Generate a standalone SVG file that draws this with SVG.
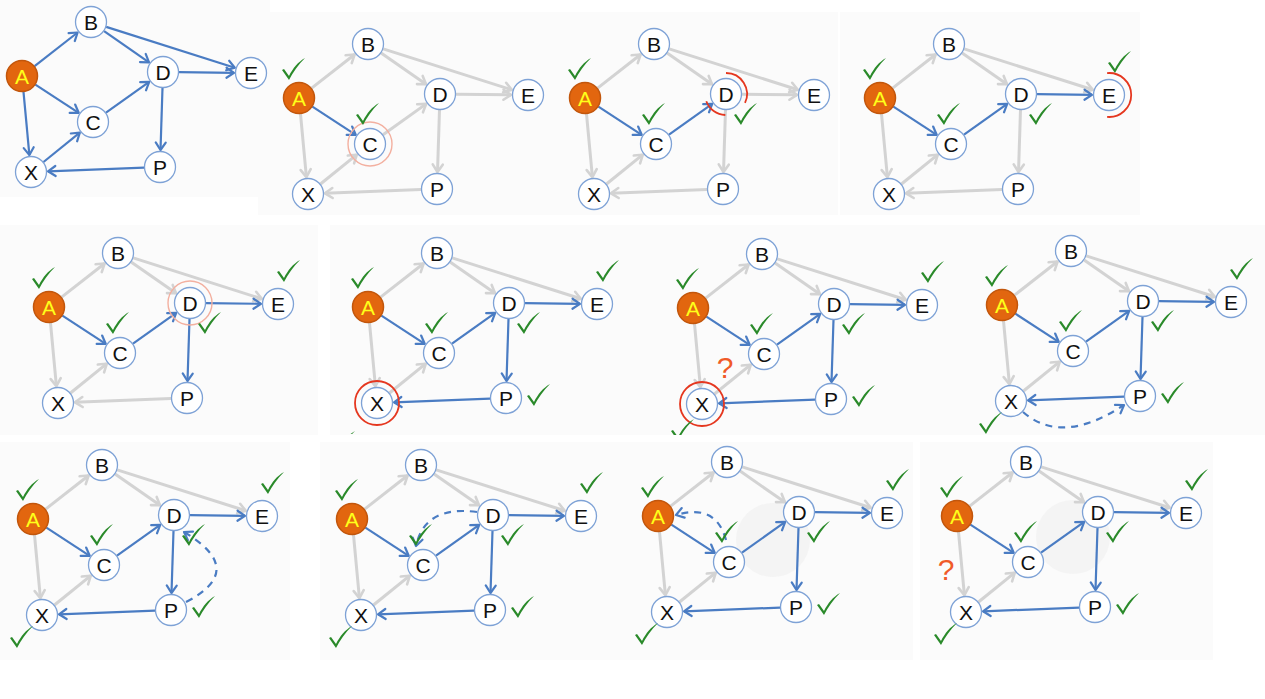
<svg xmlns="http://www.w3.org/2000/svg" xmlns:xlink="http://www.w3.org/1999/xlink" width="1265" height="699" viewBox="0 0 1265 699">
<style>
.bg{fill:#fbfbfb}
.node circle{fill:#ffffff;stroke:#7ea2d6;stroke-width:1.3}
.node text{font-family:"Liberation Sans",Arial,sans-serif;font-size:21px;fill:#111;text-anchor:middle}
.node.a circle{fill:#e2660f;stroke:#c2560c;stroke-width:1.5}
.node.a text{fill:#ffff1a}
.g{stroke:#d3d3d3;stroke-width:3;fill:none;marker-end:url(#mg)}
.b{stroke:#4a7cc3;stroke-width:2.2;fill:none;marker-end:url(#mb)}
.dash{stroke:#4a7cc3;stroke-width:2.2;fill:none;stroke-dasharray:7 6;marker-end:url(#mb)}
.ck{fill:#2a8a2a}
.ring{fill:none;stroke:#e5371f;stroke-width:1.8}
.pale{fill:none;stroke:#f3b0a0;stroke-width:1.4}
.q{font-family:"Liberation Sans",Arial,sans-serif;font-size:30px;fill:#f05a28;text-anchor:middle}
.wm{fill:#eeeeee;opacity:0.5}
</style>
<defs>
<marker id="mg" markerUnits="userSpaceOnUse" markerWidth="14" markerHeight="14" refX="10" refY="7" orient="auto"><path d="M2.5,2 L10,7 L2.5,12" fill="none" stroke="#d3d3d3" stroke-width="2.6" stroke-linecap="round" stroke-linejoin="round"/></marker>
<marker id="mb" markerUnits="userSpaceOnUse" markerWidth="14" markerHeight="14" refX="10" refY="7" orient="auto"><path d="M2.5,2 L10,7 L2.5,12" fill="none" stroke="#4a7cc3" stroke-width="2.2" stroke-linecap="round" stroke-linejoin="round"/></marker>
<path id="chk" d="M-11,1 L-9,0 L-4,7 C0,-1 5,-7 12,-11 C5,-4 0,3 -4,11 Z"/>
<clipPath id="cut"><rect x="-100" y="-100" width="500" height="227"/></clipPath>
</defs>

<rect class="bg" x="0" y="0" width="270" height="197"/>
<rect class="bg" x="258" y="12" width="298" height="203"/>
<rect class="bg" x="556" y="12" width="282" height="203"/>
<rect class="bg" x="840" y="12" width="300" height="203"/>
<rect class="bg" x="0" y="225" width="318" height="210"/>
<rect class="bg" x="330" y="225" width="310" height="210"/>
<rect class="bg" x="640" y="225" width="310" height="210"/>
<rect class="bg" x="950" y="225" width="315" height="210"/>
<rect class="bg" x="0" y="442" width="290" height="218"/>
<rect class="bg" x="320" y="442" width="300" height="218"/>
<rect class="bg" x="620" y="442" width="293" height="218"/>
<rect class="bg" x="920" y="442" width="293" height="218"/>

<!-- Panel 1 -->
<g id="panel1" transform="translate(22,76)">
<g id="p1-edges">
<line class="b" x1="12.6" y1="-9.9" x2="55.6" y2="-43.5"/>
<line class="b" x1="13.4" y1="8.7" x2="56.7" y2="36.8"/>
<line class="b" x1="1.5" y1="15.9" x2="7.4" y2="79.1"/>
<line class="b" x1="82.1" y1="-44.9" x2="127" y2="-13.7"/>
<line class="b" x1="84.2" y1="-49.1" x2="212.8" y2="-8.2"/>
<line class="b" x1="84" y1="36.7" x2="127.2" y2="5.9"/>
<line class="b" x1="157" y1="-3.8" x2="212" y2="-3.2"/>
<line class="b" x1="140.5" y1="12" x2="138.5" y2="74"/>
<line class="b" x1="122" y1="91.6" x2="26" y2="95.3"/>
<line class="b" x1="21.5" y1="86" x2="57.8" y2="56.7"/>
</g>
<g id="p1-A" class="node a"><circle cx="0" cy="0" r="15.5"/><text x="0" y="7.5">A</text></g>
<g id="p1-B" class="node"><circle cx="69" cy="-54" r="15.5"/><text x="69" y="-46.5">B</text></g>
<g id="p1-C" class="node"><circle cx="71" cy="46" r="15.5"/><text x="71" y="53.5">C</text></g>
<g id="p1-D" class="node"><circle cx="141" cy="-4" r="15.5"/><text x="141" y="3.5">D</text></g>
<g id="p1-E" class="node"><circle cx="229" cy="-3" r="15.5"/><text x="229" y="4.5">E</text></g>
<g id="p1-X" class="node"><circle cx="9" cy="96" r="15.5"/><text x="9" y="103.5">X</text></g>
<g id="p1-P" class="node"><circle cx="138" cy="91" r="15.5"/><text x="138" y="98.5">P</text></g>
</g>

<!-- Panel 2 -->
<g id="panel2" transform="translate(299,98)">
<g id="p2-edges">
<line class="g" x1="12.6" y1="-9.9" x2="55.6" y2="-43.5"/>
<line class="g" x1="1.5" y1="15.9" x2="7.4" y2="79.1"/>
<line class="g" x1="82.1" y1="-44.9" x2="127" y2="-13.7"/>
<line class="g" x1="84.2" y1="-49.1" x2="212.8" y2="-8.2"/>
<line class="g" x1="84" y1="36.7" x2="127.2" y2="5.9"/>
<line class="g" x1="157" y1="-3.8" x2="212" y2="-3.2"/>
<line class="g" x1="140.5" y1="12" x2="138.5" y2="74"/>
<line class="g" x1="122" y1="91.6" x2="26" y2="95.3"/>
<line class="g" x1="21.5" y1="86" x2="57.8" y2="56.7"/>
<line class="b" x1="13.4" y1="8.7" x2="56.7" y2="36.8"/>
</g>
<circle class="pale" cx="71" cy="46" r="22"/>
<g id="p2-A" class="node a"><circle cx="0" cy="0" r="15.5"/><text x="0" y="7.5">A</text></g>
<g id="p2-B" class="node"><circle cx="69" cy="-54" r="15.5"/><text x="69" y="-46.5">B</text></g>
<g id="p2-C" class="node"><circle cx="71" cy="46" r="15.5"/><text x="71" y="53.5">C</text></g>
<g id="p2-D" class="node"><circle cx="141" cy="-4" r="15.5"/><text x="141" y="3.5">D</text></g>
<g id="p2-E" class="node"><circle cx="229" cy="-3" r="15.5"/><text x="229" y="4.5">E</text></g>
<g id="p2-X" class="node"><circle cx="9" cy="96" r="15.5"/><text x="9" y="103.5">X</text></g>
<g id="p2-P" class="node"><circle cx="138" cy="91" r="15.5"/><text x="138" y="98.5">P</text></g>
<use class="ck" href="#chk" x="-6" y="-29"/>
<use class="ck" href="#chk" x="68" y="16"/>
</g>

<!-- Panel 3 -->
<g id="panel3" transform="translate(585,98)">
<g id="p3-edges">
<line class="g" x1="12.6" y1="-9.9" x2="55.6" y2="-43.5"/>
<line class="g" x1="1.5" y1="15.9" x2="7.4" y2="79.1"/>
<line class="g" x1="82.1" y1="-44.9" x2="127" y2="-13.7"/>
<line class="g" x1="84.2" y1="-49.1" x2="212.8" y2="-8.2"/>
<line class="g" x1="157" y1="-3.8" x2="212" y2="-3.2"/>
<line class="g" x1="140.5" y1="12" x2="138.5" y2="74"/>
<line class="g" x1="122" y1="91.6" x2="26" y2="95.3"/>
<line class="g" x1="21.5" y1="86" x2="57.8" y2="56.7"/>
<line class="b" x1="13.4" y1="8.7" x2="56.7" y2="36.8"/>
<line class="b" x1="84" y1="36.7" x2="127.2" y2="5.9"/>
</g>
<path class="ring" d="M141,-25 A21,21 0 0 1 160,4.9"/>
<path class="ring" d="M140.3,17 A21,21 0 0 1 121.3,3.2"/>
<g id="p3-A" class="node a"><circle cx="0" cy="0" r="15.5"/><text x="0" y="7.5">A</text></g>
<g id="p3-B" class="node"><circle cx="69" cy="-54" r="15.5"/><text x="69" y="-46.5">B</text></g>
<g id="p3-C" class="node"><circle cx="71" cy="46" r="15.5"/><text x="71" y="53.5">C</text></g>
<g id="p3-D" class="node"><circle cx="141" cy="-4" r="15.5"/><text x="141" y="3.5">D</text></g>
<g id="p3-E" class="node"><circle cx="229" cy="-3" r="15.5"/><text x="229" y="4.5">E</text></g>
<g id="p3-X" class="node"><circle cx="9" cy="96" r="15.5"/><text x="9" y="103.5">X</text></g>
<g id="p3-P" class="node"><circle cx="138" cy="91" r="15.5"/><text x="138" y="98.5">P</text></g>
<use class="ck" href="#chk" x="-6" y="-29"/>
<use class="ck" href="#chk" x="68" y="16"/>
<use class="ck" href="#chk" x="160" y="16"/>
</g>

<!-- Panel 4 -->
<g id="panel4" transform="translate(880,98)">
<g id="p4-edges">
<line class="g" x1="12.6" y1="-9.9" x2="55.6" y2="-43.5"/>
<line class="g" x1="1.5" y1="15.9" x2="7.4" y2="79.1"/>
<line class="g" x1="82.1" y1="-44.9" x2="127" y2="-13.7"/>
<line class="g" x1="84.2" y1="-49.1" x2="212.8" y2="-8.2"/>
<line class="g" x1="140.5" y1="12" x2="138.5" y2="74"/>
<line class="g" x1="122" y1="91.6" x2="26" y2="95.3"/>
<line class="g" x1="21.5" y1="86" x2="57.8" y2="56.7"/>
<line class="b" x1="13.4" y1="8.7" x2="56.7" y2="36.8"/>
<line class="b" x1="84" y1="36.7" x2="127.2" y2="5.9"/>
<line class="b" x1="157" y1="-3.8" x2="212" y2="-3.2"/>
</g>
<path class="ring" d="M227.1,-24.9 A22,22 0 1 1 227.1,18.9"/>
<g id="p4-A" class="node a"><circle cx="0" cy="0" r="15.5"/><text x="0" y="7.5">A</text></g>
<g id="p4-B" class="node"><circle cx="69" cy="-54" r="15.5"/><text x="69" y="-46.5">B</text></g>
<g id="p4-C" class="node"><circle cx="71" cy="46" r="15.5"/><text x="71" y="53.5">C</text></g>
<g id="p4-D" class="node"><circle cx="141" cy="-4" r="15.5"/><text x="141" y="3.5">D</text></g>
<g id="p4-E" class="node"><circle cx="229" cy="-3" r="15.5"/><text x="229" y="4.5">E</text></g>
<g id="p4-X" class="node"><circle cx="9" cy="96" r="15.5"/><text x="9" y="103.5">X</text></g>
<g id="p4-P" class="node"><circle cx="138" cy="91" r="15.5"/><text x="138" y="98.5">P</text></g>
<use class="ck" href="#chk" x="-6" y="-29"/>
<use class="ck" href="#chk" x="68" y="16"/>
<use class="ck" href="#chk" x="160" y="16"/>
<use class="ck" href="#chk" x="239" y="-36"/>
</g>

<!-- Panel 5 -->
<g id="panel5" transform="translate(49,307)">
<g id="p5-edges">
<line class="g" x1="12.6" y1="-9.9" x2="55.6" y2="-43.5"/>
<line class="g" x1="1.5" y1="15.9" x2="7.4" y2="79.1"/>
<line class="g" x1="82.1" y1="-44.9" x2="127" y2="-13.7"/>
<line class="g" x1="84.2" y1="-49.1" x2="212.8" y2="-8.2"/>
<line class="g" x1="122" y1="91.6" x2="26" y2="95.3"/>
<line class="g" x1="21.5" y1="86" x2="57.8" y2="56.7"/>
<line class="b" x1="13.4" y1="8.7" x2="56.7" y2="36.8"/>
<line class="b" x1="84" y1="36.7" x2="127.2" y2="5.9"/>
<line class="b" x1="157" y1="-3.8" x2="212" y2="-3.2"/>
<line class="b" x1="140.5" y1="12" x2="138.5" y2="74"/>
</g>
<circle class="pale" cx="141" cy="-4" r="22"/>
<g id="p5-A" class="node a"><circle cx="0" cy="0" r="15.5"/><text x="0" y="7.5">A</text></g>
<g id="p5-B" class="node"><circle cx="69" cy="-54" r="15.5"/><text x="69" y="-46.5">B</text></g>
<g id="p5-C" class="node"><circle cx="71" cy="46" r="15.5"/><text x="71" y="53.5">C</text></g>
<g id="p5-D" class="node"><circle cx="141" cy="-4" r="15.5"/><text x="141" y="3.5">D</text></g>
<g id="p5-E" class="node"><circle cx="229" cy="-3" r="15.5"/><text x="229" y="4.5">E</text></g>
<g id="p5-X" class="node"><circle cx="9" cy="96" r="15.5"/><text x="9" y="103.5">X</text></g>
<g id="p5-P" class="node"><circle cx="138" cy="91" r="15.5"/><text x="138" y="98.5">P</text></g>
<use class="ck" href="#chk" x="-6" y="-29"/>
<use class="ck" href="#chk" x="68" y="16"/>
<use class="ck" href="#chk" x="160" y="16"/>
<use class="ck" href="#chk" x="239" y="-36"/>
</g>

<!-- Panel 6 -->
<g id="panel6" transform="translate(368,307)">
<g id="p6-edges">
<line class="g" x1="12.6" y1="-9.9" x2="55.6" y2="-43.5"/>
<line class="g" x1="1.5" y1="15.9" x2="7.4" y2="79.1"/>
<line class="g" x1="82.1" y1="-44.9" x2="127" y2="-13.7"/>
<line class="g" x1="84.2" y1="-49.1" x2="212.8" y2="-8.2"/>
<line class="g" x1="21.5" y1="86" x2="57.8" y2="56.7"/>
<line class="b" x1="13.4" y1="8.7" x2="56.7" y2="36.8"/>
<line class="b" x1="84" y1="36.7" x2="127.2" y2="5.9"/>
<line class="b" x1="157" y1="-3.8" x2="212" y2="-3.2"/>
<line class="b" x1="140.5" y1="12" x2="138.5" y2="74"/>
<line class="b" x1="122" y1="91.6" x2="26" y2="95.3"/>
</g>
<circle class="ring" cx="9" cy="96" r="22"/>
<g id="p6-A" class="node a"><circle cx="0" cy="0" r="15.5"/><text x="0" y="7.5">A</text></g>
<g id="p6-B" class="node"><circle cx="69" cy="-54" r="15.5"/><text x="69" y="-46.5">B</text></g>
<g id="p6-C" class="node"><circle cx="71" cy="46" r="15.5"/><text x="71" y="53.5">C</text></g>
<g id="p6-D" class="node"><circle cx="141" cy="-4" r="15.5"/><text x="141" y="3.5">D</text></g>
<g id="p6-E" class="node"><circle cx="229" cy="-3" r="15.5"/><text x="229" y="4.5">E</text></g>
<g id="p6-X" class="node"><circle cx="9" cy="96" r="15.5"/><text x="9" y="103.5">X</text></g>
<g id="p6-P" class="node"><circle cx="138" cy="91" r="15.5"/><text x="138" y="98.5">P</text></g>
<use class="ck" href="#chk" x="-6" y="-29"/>
<use class="ck" href="#chk" x="68" y="16"/>
<use class="ck" href="#chk" x="160" y="16"/>
<use class="ck" href="#chk" x="239" y="-36"/>
<use class="ck" href="#chk" x="170" y="88"/>
<g clip-path="url(#cut)"><use class="ck" href="#chk" x="-25" y="135"/></g>
</g>

<!-- Panel 7 -->
<g id="panel7" transform="translate(693,308)">
<g id="p7-edges">
<line class="g" x1="12.6" y1="-9.9" x2="55.6" y2="-43.5"/>
<line class="g" x1="1.5" y1="15.9" x2="7.4" y2="79.1"/>
<line class="g" x1="82.1" y1="-44.9" x2="127" y2="-13.7"/>
<line class="g" x1="84.2" y1="-49.1" x2="212.8" y2="-8.2"/>
<line class="g" x1="21.5" y1="86" x2="57.8" y2="56.7"/>
<line class="b" x1="13.4" y1="8.7" x2="56.7" y2="36.8"/>
<line class="b" x1="84" y1="36.7" x2="127.2" y2="5.9"/>
<line class="b" x1="157" y1="-3.8" x2="212" y2="-3.2"/>
<line class="b" x1="140.5" y1="12" x2="138.5" y2="74"/>
<line class="b" x1="122" y1="91.6" x2="26" y2="95.3"/>
</g>
<circle class="ring" cx="9" cy="96" r="22"/>
<g id="p7-A" class="node a"><circle cx="0" cy="0" r="15.5"/><text x="0" y="7.5">A</text></g>
<g id="p7-B" class="node"><circle cx="69" cy="-54" r="15.5"/><text x="69" y="-46.5">B</text></g>
<g id="p7-C" class="node"><circle cx="71" cy="46" r="15.5"/><text x="71" y="53.5">C</text></g>
<g id="p7-D" class="node"><circle cx="141" cy="-4" r="15.5"/><text x="141" y="3.5">D</text></g>
<g id="p7-E" class="node"><circle cx="229" cy="-3" r="15.5"/><text x="229" y="4.5">E</text></g>
<g id="p7-X" class="node"><circle cx="9" cy="96" r="15.5"/><text x="9" y="103.5">X</text></g>
<g id="p7-P" class="node"><circle cx="138" cy="91" r="15.5"/><text x="138" y="98.5">P</text></g>
<text class="q" x="32" y="70">?</text>
<use class="ck" href="#chk" x="-6" y="-29"/>
<use class="ck" href="#chk" x="68" y="16"/>
<use class="ck" href="#chk" x="160" y="16"/>
<use class="ck" href="#chk" x="239" y="-36"/>
<use class="ck" href="#chk" x="170" y="88"/>
<g clip-path="url(#cut)"><use class="ck" href="#chk" x="-11" y="122"/></g>
</g>

<!-- Panel 8 -->
<g id="panel8" transform="translate(1002,305)">
<g id="p8-edges">
<line class="g" x1="12.6" y1="-9.9" x2="55.6" y2="-43.5"/>
<line class="g" x1="1.5" y1="15.9" x2="7.4" y2="79.1"/>
<line class="g" x1="82.1" y1="-44.9" x2="127" y2="-13.7"/>
<line class="g" x1="84.2" y1="-49.1" x2="212.8" y2="-8.2"/>
<line class="g" x1="21.5" y1="86" x2="57.8" y2="56.7"/>
<line class="b" x1="13.4" y1="8.7" x2="56.7" y2="36.8"/>
<line class="b" x1="84" y1="36.7" x2="127.2" y2="5.9"/>
<line class="b" x1="157" y1="-3.8" x2="212" y2="-3.2"/>
<line class="b" x1="140.5" y1="12" x2="138.5" y2="74"/>
<line class="b" x1="122" y1="91.6" x2="26" y2="95.3"/>
<path class="dash" d="M21,107 Q60,141 122,100"/>
</g>
<g id="p8-A" class="node a"><circle cx="0" cy="0" r="15.5"/><text x="0" y="7.5">A</text></g>
<g id="p8-B" class="node"><circle cx="69" cy="-54" r="15.5"/><text x="69" y="-46.5">B</text></g>
<g id="p8-C" class="node"><circle cx="71" cy="46" r="15.5"/><text x="71" y="53.5">C</text></g>
<g id="p8-D" class="node"><circle cx="141" cy="-4" r="15.5"/><text x="141" y="3.5">D</text></g>
<g id="p8-E" class="node"><circle cx="229" cy="-3" r="15.5"/><text x="229" y="4.5">E</text></g>
<g id="p8-X" class="node"><circle cx="9" cy="96" r="15.5"/><text x="9" y="103.5">X</text></g>
<g id="p8-P" class="node"><circle cx="138" cy="91" r="15.5"/><text x="138" y="98.5">P</text></g>
<use class="ck" href="#chk" x="-6" y="-29"/>
<use class="ck" href="#chk" x="68" y="16"/>
<use class="ck" href="#chk" x="160" y="16"/>
<use class="ck" href="#chk" x="239" y="-36"/>
<use class="ck" href="#chk" x="170" y="88"/>
<use class="ck" href="#chk" x="-12" y="118"/>
</g>

<!-- Panel 9 -->
<g id="panel9" transform="translate(33,519)">
<g id="p9-edges">
<line class="g" x1="12.6" y1="-9.9" x2="55.6" y2="-43.5"/>
<line class="g" x1="1.5" y1="15.9" x2="7.4" y2="79.1"/>
<line class="g" x1="82.1" y1="-44.9" x2="127" y2="-13.7"/>
<line class="g" x1="84.2" y1="-49.1" x2="212.8" y2="-8.2"/>
<line class="g" x1="21.5" y1="86" x2="57.8" y2="56.7"/>
<line class="b" x1="13.4" y1="8.7" x2="56.7" y2="36.8"/>
<line class="b" x1="84" y1="36.7" x2="127.2" y2="5.9"/>
<line class="b" x1="157" y1="-3.8" x2="212" y2="-3.2"/>
<line class="b" x1="140.5" y1="12" x2="138.5" y2="74"/>
<line class="b" x1="122" y1="91.6" x2="26" y2="95.3"/>
<path class="dash" d="M153,83 Q215,51 151,13"/>
</g>
<g id="p9-A" class="node a"><circle cx="0" cy="0" r="15.5"/><text x="0" y="7.5">A</text></g>
<g id="p9-B" class="node"><circle cx="69" cy="-54" r="15.5"/><text x="69" y="-46.5">B</text></g>
<g id="p9-C" class="node"><circle cx="71" cy="46" r="15.5"/><text x="71" y="53.5">C</text></g>
<g id="p9-D" class="node"><circle cx="141" cy="-4" r="15.5"/><text x="141" y="3.5">D</text></g>
<g id="p9-E" class="node"><circle cx="229" cy="-3" r="15.5"/><text x="229" y="4.5">E</text></g>
<g id="p9-X" class="node"><circle cx="9" cy="96" r="15.5"/><text x="9" y="103.5">X</text></g>
<g id="p9-P" class="node"><circle cx="138" cy="91" r="15.5"/><text x="138" y="98.5">P</text></g>
<use class="ck" href="#chk" x="-6" y="-29"/>
<use class="ck" href="#chk" x="68" y="16"/>
<use class="ck" href="#chk" x="160" y="16"/>
<use class="ck" href="#chk" x="239" y="-36"/>
<use class="ck" href="#chk" x="170" y="88"/>
<use class="ck" href="#chk" x="-12" y="118"/>
</g>

<!-- Panel 10 -->
<g id="panel10" transform="translate(352,519)">
<g id="p10-edges">
<line class="g" x1="12.6" y1="-9.9" x2="55.6" y2="-43.5"/>
<line class="g" x1="1.5" y1="15.9" x2="7.4" y2="79.1"/>
<line class="g" x1="82.1" y1="-44.9" x2="127" y2="-13.7"/>
<line class="g" x1="84.2" y1="-49.1" x2="212.8" y2="-8.2"/>
<line class="g" x1="21.5" y1="86" x2="57.8" y2="56.7"/>
<line class="b" x1="13.4" y1="8.7" x2="56.7" y2="36.8"/>
<line class="b" x1="84" y1="36.7" x2="127.2" y2="5.9"/>
<line class="b" x1="157" y1="-3.8" x2="212" y2="-3.2"/>
<line class="b" x1="140.5" y1="12" x2="138.5" y2="74"/>
<line class="b" x1="122" y1="91.6" x2="26" y2="95.3"/>
<path class="dash" d="M125,-7 Q73,-14 64,27"/>
</g>
<g id="p10-A" class="node a"><circle cx="0" cy="0" r="15.5"/><text x="0" y="7.5">A</text></g>
<g id="p10-B" class="node"><circle cx="69" cy="-54" r="15.5"/><text x="69" y="-46.5">B</text></g>
<g id="p10-C" class="node"><circle cx="71" cy="46" r="15.5"/><text x="71" y="53.5">C</text></g>
<g id="p10-D" class="node"><circle cx="141" cy="-4" r="15.5"/><text x="141" y="3.5">D</text></g>
<g id="p10-E" class="node"><circle cx="229" cy="-3" r="15.5"/><text x="229" y="4.5">E</text></g>
<g id="p10-X" class="node"><circle cx="9" cy="96" r="15.5"/><text x="9" y="103.5">X</text></g>
<g id="p10-P" class="node"><circle cx="138" cy="91" r="15.5"/><text x="138" y="98.5">P</text></g>
<use class="ck" href="#chk" x="-6" y="-29"/>
<use class="ck" href="#chk" x="68" y="16"/>
<use class="ck" href="#chk" x="160" y="16"/>
<use class="ck" href="#chk" x="239" y="-36"/>
<use class="ck" href="#chk" x="170" y="88"/>
<use class="ck" href="#chk" x="-12" y="118"/>
</g>

<!-- Panel 11 -->
<g id="panel11" transform="translate(658,516)">
<circle class="wm" cx="115" cy="24" r="37"/>
<g id="p11-edges">
<line class="g" x1="12.6" y1="-9.9" x2="55.6" y2="-43.5"/>
<line class="g" x1="1.5" y1="15.9" x2="7.4" y2="79.1"/>
<line class="g" x1="82.1" y1="-44.9" x2="127" y2="-13.7"/>
<line class="g" x1="84.2" y1="-49.1" x2="212.8" y2="-8.2"/>
<line class="g" x1="21.5" y1="86" x2="57.8" y2="56.7"/>
<line class="b" x1="13.4" y1="8.7" x2="56.7" y2="36.8"/>
<line class="b" x1="84" y1="36.7" x2="127.2" y2="5.9"/>
<line class="b" x1="157" y1="-3.8" x2="212" y2="-3.2"/>
<line class="b" x1="140.5" y1="12" x2="138.5" y2="74"/>
<line class="b" x1="122" y1="91.6" x2="26" y2="95.3"/>
<path class="dash" d="M68,24 Q58,-13 18,-1"/>
</g>
<g id="p11-A" class="node a"><circle cx="0" cy="0" r="15.5"/><text x="0" y="7.5">A</text></g>
<g id="p11-B" class="node"><circle cx="69" cy="-54" r="15.5"/><text x="69" y="-46.5">B</text></g>
<g id="p11-C" class="node"><circle cx="71" cy="46" r="15.5"/><text x="71" y="53.5">C</text></g>
<g id="p11-D" class="node"><circle cx="141" cy="-4" r="15.5"/><text x="141" y="3.5">D</text></g>
<g id="p11-E" class="node"><circle cx="229" cy="-3" r="15.5"/><text x="229" y="4.5">E</text></g>
<g id="p11-X" class="node"><circle cx="9" cy="96" r="15.5"/><text x="9" y="103.5">X</text></g>
<g id="p11-P" class="node"><circle cx="138" cy="91" r="15.5"/><text x="138" y="98.5">P</text></g>
<use class="ck" href="#chk" x="-6" y="-29"/>
<use class="ck" href="#chk" x="68" y="16"/>
<use class="ck" href="#chk" x="160" y="16"/>
<use class="ck" href="#chk" x="239" y="-36"/>
<use class="ck" href="#chk" x="170" y="88"/>
<use class="ck" href="#chk" x="-12" y="118"/>
</g>

<!-- Panel 12 -->
<g id="panel12" transform="translate(957,516)">
<circle class="wm" cx="116" cy="21" r="37"/>
<g id="p12-edges">
<line class="g" x1="12.6" y1="-9.9" x2="55.6" y2="-43.5"/>
<line class="g" x1="1.5" y1="15.9" x2="7.4" y2="79.1"/>
<line class="g" x1="82.1" y1="-44.9" x2="127" y2="-13.7"/>
<line class="g" x1="84.2" y1="-49.1" x2="212.8" y2="-8.2"/>
<line class="g" x1="21.5" y1="86" x2="57.8" y2="56.7"/>
<line class="b" x1="13.4" y1="8.7" x2="56.7" y2="36.8"/>
<line class="b" x1="84" y1="36.7" x2="127.2" y2="5.9"/>
<line class="b" x1="157" y1="-3.8" x2="212" y2="-3.2"/>
<line class="b" x1="140.5" y1="12" x2="138.5" y2="74"/>
<line class="b" x1="122" y1="91.6" x2="26" y2="95.3"/>
</g>
<g id="p12-A" class="node a"><circle cx="0" cy="0" r="15.5"/><text x="0" y="7.5">A</text></g>
<g id="p12-B" class="node"><circle cx="69" cy="-54" r="15.5"/><text x="69" y="-46.5">B</text></g>
<g id="p12-C" class="node"><circle cx="71" cy="46" r="15.5"/><text x="71" y="53.5">C</text></g>
<g id="p12-D" class="node"><circle cx="141" cy="-4" r="15.5"/><text x="141" y="3.5">D</text></g>
<g id="p12-E" class="node"><circle cx="229" cy="-3" r="15.5"/><text x="229" y="4.5">E</text></g>
<g id="p12-X" class="node"><circle cx="9" cy="96" r="15.5"/><text x="9" y="103.5">X</text></g>
<g id="p12-P" class="node"><circle cx="138" cy="91" r="15.5"/><text x="138" y="98.5">P</text></g>
<text class="q" x="-11" y="64">?</text>
<use class="ck" href="#chk" x="-6" y="-29"/>
<use class="ck" href="#chk" x="68" y="16"/>
<use class="ck" href="#chk" x="160" y="16"/>
<use class="ck" href="#chk" x="239" y="-36"/>
<use class="ck" href="#chk" x="170" y="88"/>
<use class="ck" href="#chk" x="-12" y="118"/>
</g>
</svg>
